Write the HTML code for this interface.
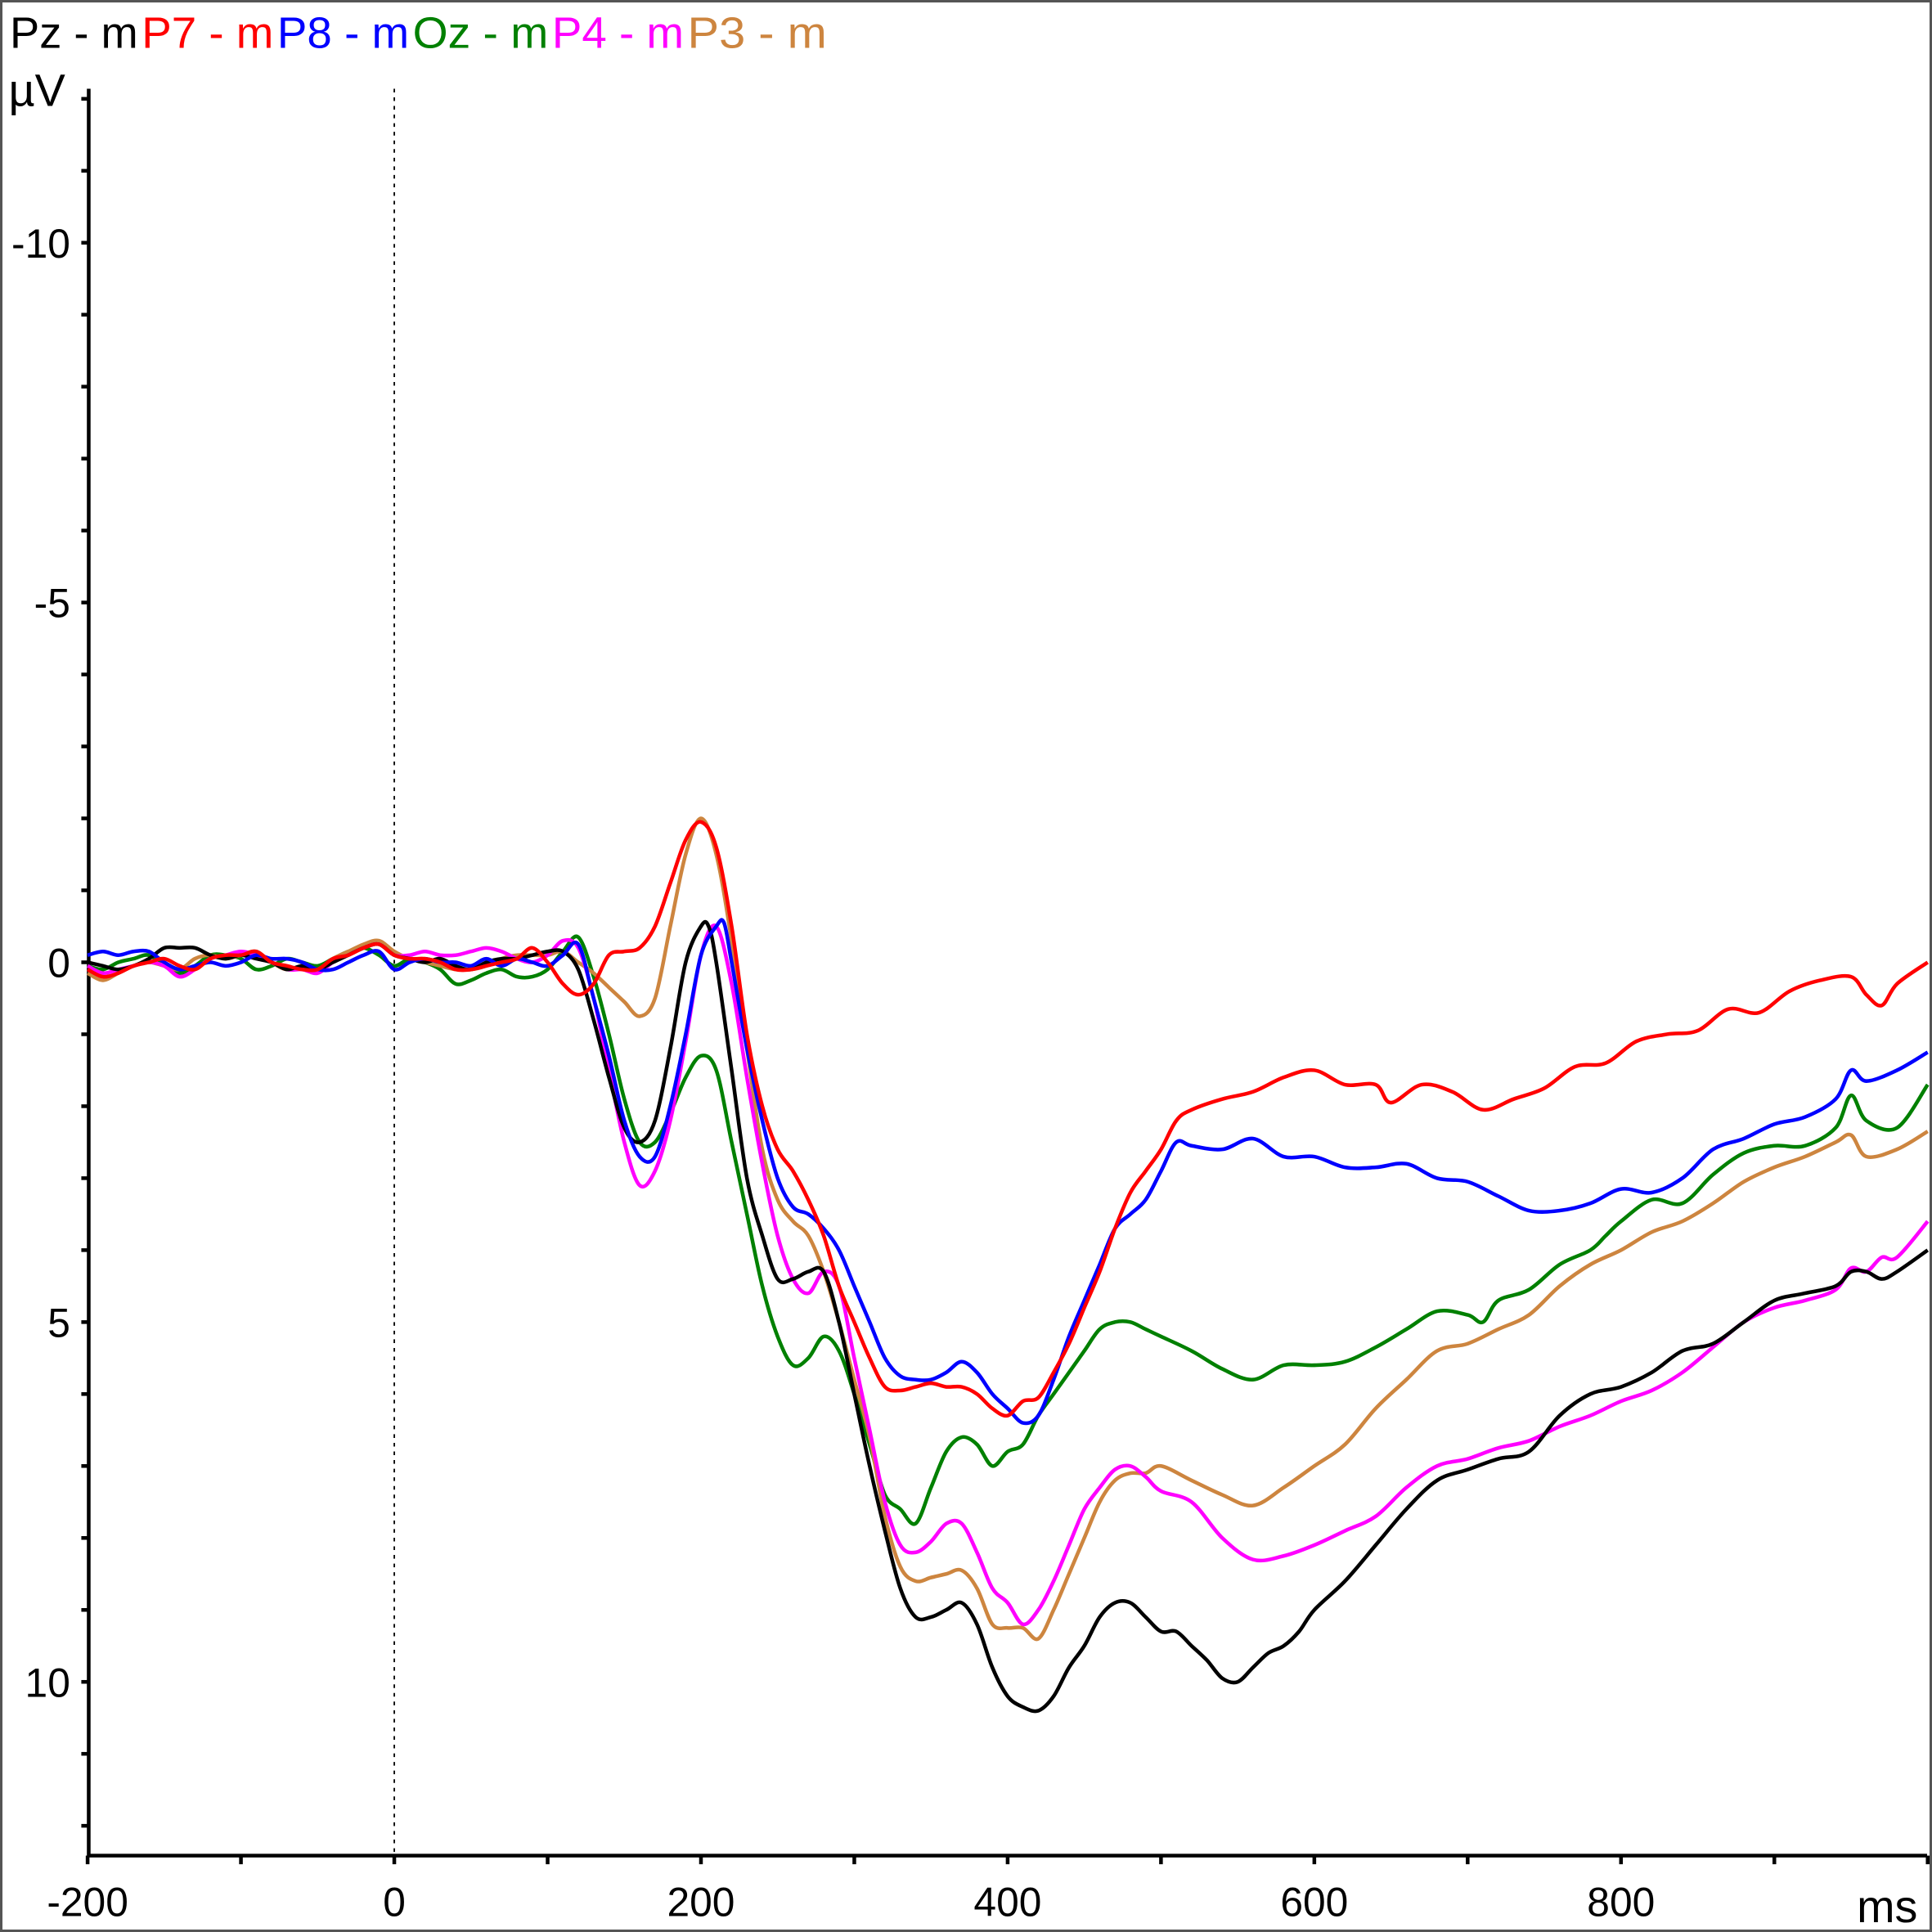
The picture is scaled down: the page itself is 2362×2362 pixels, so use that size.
<!DOCTYPE html>
<html><head><meta charset="utf-8"><style>
html,body{margin:0;padding:0;background:#fff}
svg{display:block}
text{font-family:"Liberation Sans",sans-serif}
</style></head><body>
<svg id="chart" width="2362" height="2362" viewBox="0 0 1568 1568" xmlns="http://www.w3.org/2000/svg">
<rect x="1" y="1" width="1566" height="1566" fill="#fff" stroke="#555" stroke-width="2"/>
<g id="legend"></g>
<g id="axes"></g>
<g id="series"></g>
</svg>
<script>
const seriesNames=["Pz","P7","P8","Oz","P4","P3"];
const seriesColors=["#000000","#ff0000","#0000ff","#008000","#ff00ff","#cd853f"];
const yTicks=[-10,-5,0,5,10];
const xTicks=[-200,0,200,400,600,800];
const baseT=[-200,-190,-180,-170,-160,-150,-140,-130,-120,-110,-100,-90,-80,-70,-60,-50,-40,-30,-20,-10,0,10,20,30,40,50,60,70,80,90,100];
const pzT=baseT.concat([110,120,130,140,150,160,170,180,190,200,205,210,220,230,240,250,260,270,280,290,300,310,320,330,340,350,360,370,380,390,400,410,420,430,440,450,460,470,480,490,500,510,520,530,540,550,560,570,580,590,600,620,640,660,680,700,720,740,760,780,800,820,840,860,880,900,920,940,950,960,970,980,1000]);
const pzV=[0,0.05,0.1,0.05,-0.05,-0.2,-0.2,-0.2,-0.1,-0.05,-0.1,-0.05,0,0.1,0.05,0.1,0,-0.1,-0.2,-0.25,-0.1,-0.05,0,-0.05,0.05,0.1,0,-0.05,-0.05,-0.1,-0.15,
 -0.15,0.1,0.8,1.6,2.3,2.5,2.2,1.2,0,-0.5,-0.5,0,1.5,3,3.8,4.4,4.4,4.3,4.3,5,6,7,7.9,8.7,9.1,9.1,9.0,8.9,9.2,9.8,10.2,10.35,10.4,10.2,9.8,9.5,9.1,8.9,8.9,9.1,9.3,9.3,9.5,9.7,9.95,10.0,9.8,9.6,9.5,9.3,9.0,8.6,8.1,7.6,7.2,7.05,6.9,6.8,6.3,6.0,5.9,5.7,5.4,5.3,5.0,4.7,4.6,4.5,4.3,4.3,4.4,4.3,4.0];
const p7T=baseT.concat([110,120,130,140,150,160,170,180,190,200,210,220,230,240,250,260,270,280,290,300,310,320,330,340,350,360,370,380,390,400,410,420,430,440,450,460,470,480,490,500,510,520,540,560,580,600,620,640,650,670,690,710,730,750,770,790,810,830,850,870,890,910,930,950,960,970,980,1000]);
const p7V=[0.1,0.2,0.15,0.05,0,-0.05,0.05,0.1,-0.05,-0.1,-0.1,-0.15,0,0.05,0.1,0.1,-0.05,-0.1,-0.2,-0.25,-0.1,-0.05,-0.05,0,0.1,0.1,0.05,0,-0.05,-0.2,0,
 0.3,0.45,0.3,-0.1,-0.15,-0.2,-0.5,-1.1,-1.7,-1.95,-1.6,-0.5,1.0,2.0,2.6,2.9,3.3,3.8,4.5,5.0,5.5,5.9,5.95,5.9,5.85,5.9,5.9,6.0,6.2,6.3,6.1,6.05,5.7,5.3,4.8,4.3,3.7,3.2,2.9,2.6,2.2,2.05,1.9,1.8,1.6,1.5,1.7,1.7,1.95,1.7,1.8,2.05,1.9,1.75,1.45,1.4,1.1,1.0,0.95,0.65,0.7,0.4,0.25,0.2,0.45,0.6,0.3,0.0];
const p8T=baseT.concat([110,120,130,140,150,160,170,180,190,200,210,215,220,230,240,250,260,270,280,290,300,310,320,330,340,350,360,370,380,390,400,410,420,430,440,450,460,470,480,490,500,510,520,540,560,580,600,620,640,660,680,700,720,740,760,780,800,820,840,860,880,900,920,940,950,960,980,1000]);
const p8V=[-0.1,-0.15,-0.1,-0.15,-0.15,0,0.1,0.05,0,0.05,0,-0.1,-0.05,-0.05,0,0.1,0.1,0,-0.1,-0.15,0.1,0,-0.05,0,0,0.05,-0.05,0.05,-0.05,0,0.05,
 -0.1,-0.25,0.5,1.3,2.2,2.7,2.7,2.0,1.0,-0.1,-0.5,-0.55,0,1.2,2.2,3.0,3.4,3.5,3.7,4.0,4.5,5.0,5.5,5.75,5.8,5.8,5.7,5.55,5.7,6.0,6.2,6.4,6.3,5.8,5.2,4.7,4.2,3.7,3.5,3.3,2.9,2.5,2.55,2.6,2.45,2.7,2.7,2.85,2.85,2.8,3.0,3.05,3.25,3.45,3.45,3.35,3.15,3.2,3.0,2.6,2.45,2.25,2.15,1.9,1.5,1.65,1.5,1.25];
const ozT=baseT.concat([110,120,130,140,150,160,170,180,190,200,210,220,230,240,250,260,270,280,290,300,310,320,330,340,350,360,370,380,390,400,410,420,430,440,450,460,470,480,490,500,520,540,560,580,600,620,640,660,680,700,710,720,740,760,780,790,800,820,840,860,880,900,920,940,950,960,980,1000]);
const ozV=[0.05,0.1,0,-0.05,-0.1,0.05,0.15,0.05,-0.1,-0.1,-0.05,0.1,0.05,-0.05,0,0.05,-0.05,-0.15,-0.2,-0.1,0.05,-0.05,0,0.1,0.3,0.25,0.15,0.1,0.2,0.2,0.1,
 -0.15,-0.35,0.2,1.0,1.9,2.5,2.5,2.1,1.6,1.3,1.5,2.5,3.5,4.5,5.2,5.6,5.5,5.2,5.4,6.0,6.7,7.4,7.6,7.8,7.3,6.8,6.6,6.7,7.0,6.8,6.7,6.3,6.0,5.7,5.4,5.1,5.0,5.0,5.1,5.2,5.4,5.65,5.8,5.6,5.6,5.55,5.35,5.1,4.85,4.9,5.0,4.7,4.55,4.2,4.0,3.8,3.6,3.3,3.35,2.95,2.65,2.55,2.55,2.3,1.85,2.2,2.3,1.7];
const p4T=baseT.concat([110,120,130,140,150,160,170,180,190,200,210,220,230,240,250,260,270,280,290,300,310,320,330,340,350,360,370,380,390,400,410,420,430,440,450,460,470,480,490,500,520,540,560,580,600,620,640,660,680,700,720,740,760,780,800,820,840,860,880,900,920,940,950,960,970,980,1000]);
const p4V=[0.05,0.15,0.1,0.05,0,0.05,0.2,0.1,-0.05,-0.1,-0.15,-0.1,0,0.1,0.1,0.15,0,-0.1,-0.2,-0.25,-0.1,-0.1,-0.15,-0.1,-0.1,-0.15,-0.2,-0.15,-0.05,0,-0.1,
 -0.3,-0.2,0.5,1.5,2.5,3.1,2.9,2.2,1.1,-0.1,-0.5,0.3,1.6,2.8,3.8,4.4,4.6,4.3,4.5,5.5,6.5,7.5,8.1,8.2,8.05,7.8,7.8,8.2,8.7,8.9,9.2,9.0,8.6,8.1,7.6,7.3,7.05,7.0,7.15,7.35,7.5,8.0,8.3,8.25,8.1,7.9,7.7,7.3,7.0,6.9,6.75,6.65,6.45,6.3,6.1,5.95,5.7,5.35,5.0,4.8,4.7,4.55,4.25,4.3,4.1,4.1,3.6];
const p3T=baseT.concat([110,120,130,140,150,160,170,180,190,200,210,220,230,240,250,260,270,280,290,300,310,320,330,340,350,360,370,380,390,400,410,420,430,440,450,460,470,480,490,500,520,540,560,580,600,620,640,660,680,700,720,740,760,780,800,820,840,860,880,900,920,940,950,960,980,1000]);
const p3V=[0.15,0.25,0.15,0.05,0,0.05,0.1,-0.05,-0.1,-0.05,-0.1,-0.15,0,0.1,0.05,0.1,-0.05,-0.15,-0.25,-0.3,-0.15,-0.05,0,0.05,0.1,0.1,0.05,-0.05,-0.1,-0.1,-0.1,
 -0.15,0.0,0.15,0.35,0.55,0.75,0.5,-0.5,-1.5,-2.0,-1.5,-0.3,1.2,2.6,3.3,3.6,3.8,4.3,5.0,5.8,6.6,7.7,8.4,8.6,8.55,8.5,8.45,8.7,9.2,9.25,9.25,9.4,9.0,8.5,8.0,7.5,7.2,7.1,7.1,7.0,7.2,7.4,7.55,7.3,7.0,6.7,6.2,5.8,5.4,5.3,5.1,4.9,4.5,4.2,4.0,3.75,3.6,3.35,3.05,2.85,2.7,2.5,2.4,2.7,2.6,2.35];
const seriesT=[pzT,p7T,p8T,ozT,p4T,p3T];
const seriesV=[pzV,p7V,p8V,ozV,p4V,p3V];

const NS="http://www.w3.org/2000/svg";
const X0=72,X1=1564,Y0=50,Y1=1506;
function xs(t){return 320+(t)*1.2445;}
function ys(v){return 781+v*58.4;}
function mk(tag,attrs,parent){const e=document.createElementNS(NS,tag);for(const k in attrs)e.setAttribute(k,attrs[k]);parent.appendChild(e);return e;}
const axes=document.getElementById('axes');
const legend=document.getElementById('legend');
const series=document.getElementById('series');

// legend
let lx=8;
const legendWidths=[107,110,110,113,110,116];
for(let i=0;i<seriesNames.length;i++){
  const t=mk('text',{x:lx,y:39,fill:seriesColors[i],'font-size':36,textLength:legendWidths[i]-3,lengthAdjust:'spacingAndGlyphs'},legend);
  
  
  t.textContent=seriesNames[i]+" - m";
  lx+=legendWidths[i];
}
// zero line
const zl=mk('line',{x1:xs(0),x2:xs(0),y1:Y0+22,y2:Y1,stroke:'#000','stroke-width':1.2,'stroke-dasharray':'3,4'},axes);


// y axis
const ya=mk('line',{x1:X0,x2:X0,y1:Y0+22,y2:Y1+1,stroke:'#000','stroke-width':3},axes);


for(let v=-12;v<=12;v++){
  const y=ys(v);
  const tk=mk('line',{x1:X0-6,x2:X0,y1:y,y2:y,stroke:'#000','stroke-width':3},axes);
  
  
}
for(const v of yTicks){
  const t=mk('text',{x:57,y:ys(v)+12,'text-anchor':'end','font-size':33,fill:'#000'},axes);
  
  
  t.textContent=String(v);
}
const yl=mk('text',{x:7,y:86,'font-size':37,fill:'#000'},axes);


yl.textContent="µV";
// x axis
const xa=mk('line',{x1:X0,x2:X1,y1:Y1,y2:Y1,stroke:'#000','stroke-width':3},axes);


for(let t=-200;t<=1000;t+=100){
  const x=xs(t);
  const tk=mk('line',{x1:x,x2:x,y1:Y1,y2:Y1+7,stroke:'#000','stroke-width':3},axes);
  
  
}
for(const t of xTicks){
  const tx=mk('text',{x:xs(t),y:1555,'text-anchor':'middle','font-size':33,fill:'#000'},axes);
  
  
  tx.textContent=String(t);
}
const xl=mk('text',{x:1507,y:1560,'font-size':37,fill:'#000'},axes);


xl.textContent="ms";

// series
function pathFor(T,V){
  const n=Math.min(T.length,V.length);
  const P=[];for(let i=0;i<n;i++)P.push([xs(T[i]),ys(V[i])]);
  let d="M"+P[0][0].toFixed(1)+","+P[0][1].toFixed(1);
  for(let i=0;i<n-1;i++){
    const p0=P[Math.max(0,i-1)],p1=P[i],p2=P[i+1],p3=P[Math.min(n-1,i+2)];
    const c1=[p1[0]+(p2[0]-p0[0])/6,p1[1]+(p2[1]-p0[1])/6];
    const c2=[p2[0]-(p3[0]-p1[0])/6,p2[1]-(p3[1]-p1[1])/6];
    d+="C"+c1[0].toFixed(1)+","+c1[1].toFixed(1)+" "+c2[0].toFixed(1)+","+c2[1].toFixed(1)+" "+p2[0].toFixed(1)+","+p2[1].toFixed(1);
  }
  return d;
}
const order=[3,5,4,0,2,1];
for(const i of order){
  const p=mk('path',{d:pathFor(seriesT[i],seriesV[i]),fill:'none',stroke:seriesColors[i],'stroke-width':3,'stroke-linejoin':'round'},series);
  
  
}
</script>
</body></html>
